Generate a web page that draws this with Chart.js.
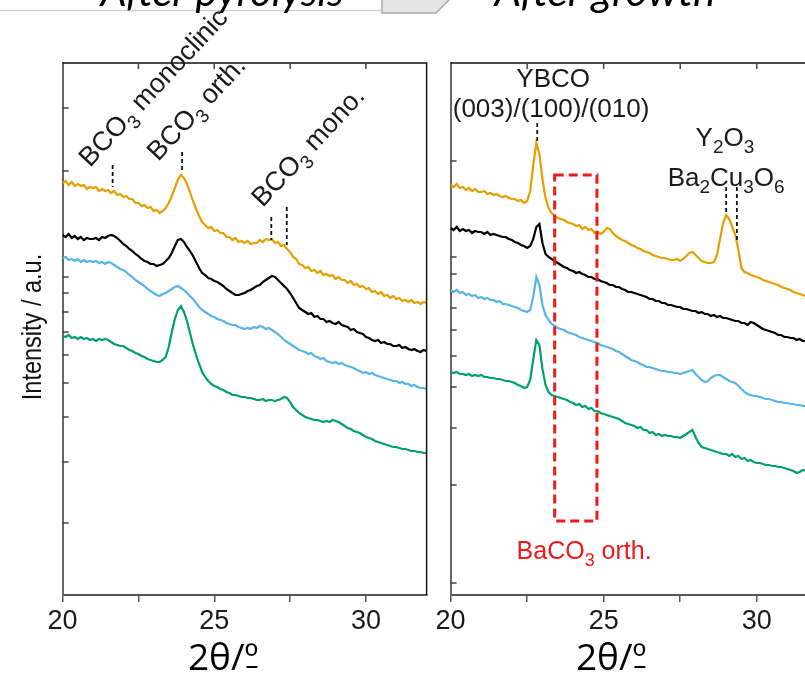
<!DOCTYPE html>
<html>
<head>
<meta charset="utf-8">
<script src="https://cdn.jsdelivr.net/npm/chart.js@4.4.1/dist/chart.umd.min.js"></script>
<style>
  html, body { margin: 0; padding: 0; width: 805px; height: 680px; overflow: hidden; background: #fff; }
  #wrap { position: relative; width: 805px; height: 680px; overflow: hidden; }
  canvas { position: absolute; top: 0; }
  #pyro { left: 0; }
  #growth { left: 388px; }
  #deco { position: absolute; left: 0; top: 0; pointer-events: none; }
</style>
</head>
<body>
<div id="wrap">
  <canvas id="pyro" width="440" height="680"></canvas>
  <canvas id="growth" width="445" height="680"></canvas>
  <svg id="deco" width="805" height="680">
    <line x1="0" y1="10.5" x2="427" y2="10.5" stroke="#d0d0d0" stroke-width="1.5"/>
    <polygon points="382,-20 382,13 436,13 449,0 449,-20" fill="#e6e6e6" stroke="#a9a9a9" stroke-width="1.5"/>
    <text x="222" y="6" text-anchor="middle" font-family="Lato, 'Open Sans', sans-serif" font-style="italic" font-size="40" textLength="243" lengthAdjust="spacingAndGlyphs">After pyrolysis</text>
    <text x="605" y="6" text-anchor="middle" font-family="Lato, 'Open Sans', sans-serif" font-style="italic" font-size="40" textLength="221" lengthAdjust="spacingAndGlyphs">After growth</text>
  </svg>
</div>
<script>
// 2θ grid (degrees), shared by every pattern
const twoTheta = [
  20.0, 20.1, 20.2, 20.3, 20.4, 20.5, 20.6, 20.7, 20.8, 20.9,
  21.0, 21.1, 21.2, 21.3, 21.4, 21.5, 21.6, 21.7, 21.8, 21.9,
  22.0, 22.1, 22.2, 22.3, 22.4, 22.5, 22.6, 22.7, 22.8, 22.9,
  23.0, 23.1, 23.2, 23.3, 23.4, 23.5, 23.6, 23.7, 23.8, 23.9,
  24.0, 24.1, 24.2, 24.3, 24.4, 24.5, 24.6, 24.7, 24.8, 24.9,
  25.0, 25.1, 25.2, 25.3, 25.4, 25.5, 25.6, 25.7, 25.8, 25.9,
  26.0, 26.1, 26.2, 26.3, 26.4, 26.5, 26.6, 26.7, 26.8, 26.9,
  27.0, 27.1, 27.2, 27.3, 27.4, 27.5, 27.6, 27.7, 27.8, 27.9,
  28.0, 28.1, 28.2, 28.3, 28.4, 28.5, 28.6, 28.7, 28.8, 28.9,
  29.0, 29.1, 29.2, 29.3, 29.4, 29.5, 29.6, 29.7, 29.8, 29.9,
  30.0, 30.1, 30.2, 30.3, 30.4, 30.5, 30.6, 30.7, 30.8, 30.9,
  31.0, 31.1, 31.2, 31.3, 31.4, 31.5, 31.6, 31.7, 31.8, 31.9,
  32.0
];

// After pyrolysis (intensity, stacked, a.u.)
const pyroOrange = [
  412, 414, 410, 413, 409, 411, 409, 410, 406, 408,
  407, 408, 404, 406, 404, 405, 402, 404, 400, 401,
  398, 399, 396, 396, 392, 392, 389, 390, 387, 388,
  384, 385, 382, 384, 387, 392, 399, 407, 415, 420,
  417, 411, 403, 394, 386, 379, 373, 370, 367, 368,
  364, 365, 362, 362, 358, 358, 355, 357, 353, 354,
  352, 354, 351, 352, 352, 355, 353, 356, 355, 356,
  352, 353, 349, 350, 346, 343, 338, 336, 331, 330,
  327, 328, 324, 325, 322, 324, 320, 321, 319, 320,
  316, 318, 315, 315, 312, 314, 310, 311, 308, 309,
  306, 307, 303, 304, 301, 303, 299, 300, 297, 299,
  296, 297, 294, 295, 293, 295, 292, 293, 291, 293,
  292
];
const pyroBlack = [
  360, 358, 361, 357, 359, 356, 358, 355, 357, 356,
  356, 357, 355, 358, 357, 359, 360, 359, 357, 354,
  351, 349, 346, 344, 341, 339, 336, 334, 333, 331,
  331, 329, 330, 331, 334, 337, 342, 349, 355, 356,
  353, 348, 344, 339, 333, 327, 322, 320, 317, 316,
  314, 313, 311, 309, 306, 304, 302, 300, 300, 301,
  302, 304, 305, 307, 309, 310, 313, 315, 317, 319,
  318, 315, 312, 309, 306, 302, 297, 292, 287, 285,
  283, 281, 282, 278, 279, 276, 276, 273, 274, 272,
  271, 273, 270, 269, 268, 265, 266, 263, 262, 261,
  258, 257, 255, 254, 255, 252, 253, 251, 251, 249,
  249, 250, 247, 248, 246, 245, 246, 244, 243, 245,
  244
];
const pyroBlue = [
  337, 338, 335, 336, 334, 336, 333, 335, 333, 334,
  333, 334, 332, 333, 331, 333, 332, 330, 328, 326,
  325, 323, 320, 318, 315, 313, 311, 309, 306, 304,
  302, 300, 299, 301, 302, 304, 306, 308, 309, 307,
  305, 302, 299, 296, 292, 288, 285, 283, 281, 279,
  278, 276, 275, 274, 272, 271, 270, 270, 268, 267,
  266, 267, 266, 268, 267, 269, 268, 266, 267, 265,
  263, 261, 258, 255, 253, 251, 249, 247, 245, 244,
  243, 241, 242, 239, 238, 236, 237, 234, 233, 232,
  233, 231, 232, 230, 229, 228, 227, 225, 224, 222,
  223, 221, 222, 220, 219, 218, 217, 216, 215, 214,
  214, 212, 213, 211, 211, 209, 210, 208, 207, 207,
  206
];
const pyroGreen = [
  259, 258, 260, 257, 258, 256, 258, 256, 257, 255,
  256, 254, 256, 255, 256, 255, 253, 251, 250, 249,
  249, 247, 245, 244, 242, 241, 239, 238, 236, 235,
  234, 233, 233, 235, 238, 248, 263, 276, 285, 289,
  283, 274, 262, 250, 240, 231, 223, 218, 214, 211,
  209, 208, 206, 205, 203, 202, 200, 200, 199, 198,
  198, 197, 197, 196, 195, 195, 196, 194, 195, 195,
  194, 195, 196, 198, 197, 193, 188, 185, 182, 180,
  178, 177, 176, 175, 175, 174, 173, 174, 173, 175,
  174, 173, 171, 169, 167, 166, 164, 163, 162, 160,
  158, 157, 156, 154, 153, 152, 151, 150, 149, 148,
  148, 147, 146, 146, 145, 144, 144, 143, 143, 142,
  142
];

// After growth
const growthOrange = [
  410, 408, 411, 407, 408, 405, 407, 404, 406, 403,
  403, 404, 401, 402, 400, 401, 399, 398, 399, 397,
  396, 396, 394, 395, 392, 394, 404, 430, 452, 441,
  416, 397, 387, 382, 379, 377, 376, 375, 373, 372,
  371, 369, 370, 366, 368, 365, 366, 362, 363, 361,
  363, 367, 366, 362, 359, 357, 355, 354, 352, 350,
  349, 347, 346, 344, 343, 342, 340, 339, 338, 337,
  337, 336, 335, 335, 336, 334, 336, 339, 342, 343,
  340, 337, 334, 333, 332, 332, 333, 340, 356, 372,
  380, 376, 368, 360, 345, 327, 323, 322, 320, 319,
  318, 317, 315, 314, 313, 312, 311, 310, 308, 307,
  306, 305, 303, 302, 301, 300, 299, 298, 297, 296,
  295
];
const growthBlack = [
  367, 365, 368, 364, 366, 364, 365, 362, 364, 363,
  363, 361, 363, 360, 361, 360, 359, 358, 358, 356,
  355, 353, 352, 350, 349, 347, 349, 356, 368, 371,
  352, 341, 338, 336, 334, 332, 330, 328, 327, 325,
  324, 322, 323, 321, 320, 318, 318, 316, 316, 314,
  313, 312, 310, 310, 308, 308, 306, 305, 303, 303,
  302, 301, 300, 299, 298, 296, 296, 294, 294, 292,
  292, 290, 290, 289, 288, 288, 286, 286, 285, 284,
  284, 282, 283, 281, 281, 279, 280, 278, 279, 277,
  277, 276, 275, 274, 274, 272, 272, 270, 273, 272,
  270, 268, 266, 265, 264, 263, 262, 260, 260, 258,
  258, 257, 257, 255, 256, 254, 254, 253, 253, 252,
  252
];
const growthBlue = [
  305, 303, 305, 302, 303, 300, 301, 299, 300, 297,
  298, 296, 297, 295, 295, 293, 294, 291, 291, 290,
  289, 288, 287, 285, 284, 283, 285, 298, 318, 310,
  290, 280, 275, 271, 269, 267, 266, 265, 263, 262,
  261, 260, 258, 257, 256, 255, 254, 253, 252, 250,
  249, 248, 247, 246, 244, 243, 241, 239, 237, 235,
  234, 233, 231, 230, 228, 228, 227, 226, 225, 224,
  224, 223, 223, 222, 222, 221, 222, 223, 224, 225,
  221, 218, 215, 213, 214, 217, 219, 220, 220, 218,
  216, 214, 213, 212, 209, 206, 203, 201, 200, 199,
  199, 198, 197, 196, 196, 195, 194, 193, 193, 192,
  192, 191, 191, 190, 190, 189, 189, 188, 188, 187,
  187
];
const growthGreen = [
  223, 222, 223, 221, 221, 220, 221, 219, 220, 219,
  220, 218, 218, 217, 217, 216, 216, 215, 214, 214,
  213, 212, 210, 209, 207, 208, 215, 236, 255, 250,
  226, 210, 203, 200, 199, 198, 197, 196, 195, 193,
  192, 190, 191, 188, 189, 186, 187, 184, 184, 182,
  181, 180, 179, 178, 177, 176, 174, 172, 171, 170,
  169, 167, 168, 165, 165, 162, 163, 160, 161, 159,
  160, 159, 159, 158, 158, 157, 159, 161, 163, 165,
  158, 152, 148, 147, 146, 145, 144, 143, 142, 141,
  141, 139, 141, 138, 139, 136, 137, 134, 135, 133,
  132, 132, 131, 130, 130, 129, 129, 128, 128, 127,
  126, 125, 124, 122, 123, 125, 124, 123, 122, 121,
  120
];

// axis ticks
const xTickValues = [20, 22.5, 25, 27.5, 30];
const xLabelValues = [20, 25, 30];
const topTickValues = [22.5, 25, 27.5, 30];
const pyroYTicks = [487, 424, 318, 302, 283, 263, 240, 212, 178, 133, 72];
const growthYTicks = [434, 338, 321, 287, 265, 239, 208, 167, 110, 12];

const seriesColors = ['#E69F00', '#000000', '#56B4E9', '#009E73'];
const labelFont = '"Liberation Sans", Arial, Helvetica, sans-serif';
const tilt = -47 * Math.PI / 180;

// text with _n subscripts
function drawRich(ctx, text, px, py, rot, align, color, size) {
  const parts = text.split(/_(\d)/);
  const big = size + 'px ' + labelFont;
  const small = Math.round(size * 0.72) + 'px ' + labelFont;
  let w = 0;
  parts.forEach((p, i) => { ctx.font = i % 2 ? small : big; w += ctx.measureText(p).width; });
  ctx.save();
  ctx.translate(px, py);
  ctx.rotate(rot);
  ctx.fillStyle = color;
  ctx.textBaseline = 'alphabetic';
  ctx.textAlign = 'left';
  let cx = align === 'center' ? -w / 2 : 0;
  parts.forEach((p, i) => {
    ctx.font = i % 2 ? small : big;
    ctx.fillText(p, cx, i % 2 ? size * 0.27 : 0);
    cx += ctx.measureText(p).width;
  });
  ctx.restore();
}

const decor = {
  id: 'decor',
  afterDatasetsDraw(chart, args, o) {
    const { ctx, chartArea: a, scales: { x, y } } = chart;
    ctx.save();
    // top and right frame
    ctx.strokeStyle = '#111';
    ctx.lineWidth = 1.5;
    ctx.beginPath();
    ctx.moveTo(a.left, a.top);
    ctx.lineTo(a.right, a.top);
    ctx.lineTo(a.right, a.bottom);
    ctx.stroke();
    // inward ticks
    ctx.strokeStyle = '#444';
    ctx.lineWidth = 1.5;
    o.yTicks.forEach(v => {
      const py = y.getPixelForValue(v);
      ctx.beginPath(); ctx.moveTo(a.left, py); ctx.lineTo(a.left + 6, py); ctx.stroke();
    });
    topTickValues.forEach(v => {
      const px = x.getPixelForValue(v);
      ctx.beginPath(); ctx.moveTo(px, a.top); ctx.lineTo(px, a.top + 6); ctx.stroke();
    });
    // peak markers
    ctx.setLineDash([4, 3]);
    ctx.strokeStyle = '#111';
    ctx.lineWidth = 1.8;
    o.markers.forEach(m => {
      const px = x.getPixelForValue(m[0]);
      ctx.beginPath(); ctx.moveTo(px, y.getPixelForValue(m[1])); ctx.lineTo(px, y.getPixelForValue(m[2])); ctx.stroke();
    });
    if (o.box) {
      ctx.setLineDash([9, 5]);
      ctx.strokeStyle = '#f01818';
      ctx.lineWidth = 3;
      const l = x.getPixelForValue(o.box[0]), r = x.getPixelForValue(o.box[1]);
      const t = y.getPixelForValue(o.box[2]), b = y.getPixelForValue(o.box[3]);
      ctx.strokeRect(l, t, r - l, b - t);
    }
    ctx.setLineDash([]);
    o.labels.forEach(l => drawRich(ctx, l.text, x.getPixelForValue(l.x), y.getPixelForValue(l.y),
      l.rot || 0, l.align || 'left', l.color || '#1a1a1a', l.size || 26));
    // x axis title, with the underlined ordinal sign
    const tx = a.left + 160.5;
    ctx.font = '37px "Open Sans", "Noto Sans", sans-serif';
    ctx.fillStyle = '#000';
    ctx.textAlign = 'center';
    ctx.textBaseline = 'middle';
    ctx.fillText('2θ/º', tx, 659);
    const tw = ctx.measureText('2θ/º').width, ow = ctx.measureText('º').width;
    ctx.strokeStyle = '#000';
    ctx.lineWidth = 2;
    ctx.beginPath();
    ctx.moveTo(tx + tw / 2 - ow + 2, 667);
    ctx.lineTo(tx + tw / 2 - 1, 667);
    ctx.stroke();
    if (o.yTitle) {
      ctx.save();
      ctx.translate(33, 327);
      ctx.rotate(-Math.PI / 2);
      ctx.scale(0.84, 1);
      ctx.font = '28px ' + labelFont;
      ctx.fillStyle = '#111';
      ctx.fillText(o.yTitle, 0, 0);
      ctx.restore();
    }
    ctx.restore();
  }
};

function makePanel(id, series, rightPad, decorOpts) {
  return new Chart(document.getElementById(id), {
    type: 'line',
    data: {
      datasets: series.map((s, i) => ({
        data: twoTheta.map((t, j) => ({ x: t, y: s[j] })),
        borderColor: seriesColors[i],
        borderWidth: 2.2,
        pointRadius: 0,
        tension: 0,
        fill: false
      }))
    },
    options: {
      responsive: false,
      animation: false,
      devicePixelRatio: 1,
      layout: { padding: { left: 0, right: rightPad, top: 63, bottom: 0 } },
      plugins: { legend: { display: false }, tooltip: { enabled: false }, decor: decorOpts },
      scales: {
        x: {
          type: 'linear', min: 20, max: 32,
          afterBuildTicks: s => { s.ticks = xTickValues.map(v => ({ value: v })); },
          afterFit: s => { s.height = 85; },
          ticks: {
            autoSkip: false, maxRotation: 0, padding: 3, color: '#1a1a1a',
            font: { family: labelFont, size: 27 },
            callback: v => xLabelValues.includes(v) ? String(v) : ''
          },
          grid: { drawOnChartArea: false, drawTicks: true, tickLength: 7, color: '#555', lineWidth: 1.5 },
          border: { display: true, color: '#555', width: 2 }
        },
        y: {
          min: 0, max: 532,
          afterFit: s => { s.width = 62.6; },
          ticks: { display: false },
          grid: { display: false },
          border: { display: true, color: '#666', width: 2 }
        }
      }
    },
    plugins: [decor]
  });
}

makePanel('pyro', [pyroOrange, pyroBlack, pyroBlue, pyroGreen], 13.4, {
  yTicks: pyroYTicks,
  yTitle: 'Intensity / a.u.',
  markers: [[21.65, 430, 408], [23.94, 443, 422], [26.88, 378, 355], [27.39, 388, 350]],
  labels: [
    { text: 'BCO_3 monoclinic', x: 20.9, y: 427, rot: tilt, size: 27 },
    { text: 'BCO_3 orth.', x: 23.15, y: 433, rot: tilt, size: 27 },
    { text: 'BCO_3 mono.', x: 26.6, y: 387, rot: tilt, size: 27 }
  ]
});

makePanel('growth', [growthOrange, growthBlack, growthBlue, growthGreen], 15, {
  yTicks: growthYTicks,
  markers: [[22.83, 472, 452], [29.0, 408, 382], [29.35, 408, 352]],
  box: [23.4, 24.78, 420, 74],
  labels: [
    { text: 'YBCO', x: 23.35, y: 508, align: 'center' },
    { text: '(003)/(100)/(010)', x: 23.28, y: 478, align: 'center' },
    { text: 'Y_2O_3', x: 28.96, y: 449, align: 'center' },
    { text: 'Ba_2Cu_3O_6', x: 29.0, y: 409, align: 'center' },
    { text: 'BaCO_3 orth.', x: 24.36, y: 36, align: 'center', color: '#f01818', size: 25 }
  ]
});
</script>
</body>
</html>
